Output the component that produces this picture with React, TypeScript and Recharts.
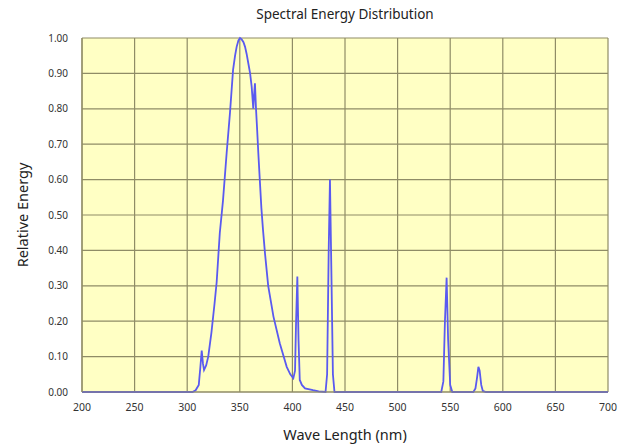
import React from 'react';
import { LineChart, Line, XAxis, YAxis, CartesianGrid } from 'recharts';

const wavelengths = [200, 305, 308, 311, 312.5, 313.8, 315, 316, 318, 320, 323, 326, 328, 331, 334, 337.5, 340.7, 343.6, 345.5, 347, 348.7, 350.2, 351.8, 353.5, 355, 356.5, 358, 359.8, 361.3, 362.8, 363.6, 364.4, 365.4, 366.5, 367.6, 369, 370.5, 372, 374, 377, 382, 388, 394.6, 398, 400.9, 402.5, 403.5, 404.7, 405.8, 407, 409, 412, 419.6, 425, 431.5, 433, 434.5, 435.7, 437, 438.5, 440, 445, 541.5, 543.5, 545, 546.6, 548, 550, 552, 572, 574, 575.5, 576.8, 578, 579.5, 581, 584, 700];
const energy = [0, 0, 0.005, 0.02, 0.07, 0.117, 0.08, 0.062, 0.075, 0.1, 0.167, 0.25, 0.31, 0.45, 0.54, 0.675, 0.79, 0.91, 0.95, 0.975, 0.993, 1.0, 0.996, 0.988, 0.975, 0.955, 0.93, 0.9, 0.862, 0.8, 0.84, 0.872, 0.8, 0.74, 0.675, 0.6, 0.52, 0.46, 0.39, 0.3, 0.213, 0.138, 0.071, 0.05, 0.039, 0.06, 0.2, 0.326, 0.15, 0.034, 0.02, 0.01, 0.005, 0.002, 0, 0.05, 0.4, 0.6, 0.35, 0.05, 0, 0, 0, 0.03, 0.2, 0.323, 0.15, 0.02, 0, 0, 0.01, 0.04, 0.071, 0.06, 0.02, 0.003, 0, 0];

const xTicks = [200, 250, 300, 350, 400, 450, 500, 550, 600, 650, 700];
const yTicks = [0, 0.1, 0.2, 0.3, 0.4, 0.5, 0.6, 0.7, 0.8, 0.9, 1.0];

const data = wavelengths.map((w, i) => ({ w, e: energy[i] }));

const FONT = '"Noto Sans", "Liberation Sans", sans-serif';
const GRID = '#8f8c66';

const YLabel = (props: any) => {
  const vb = props.viewBox || {};
  const cx = 22;
  const cy = (vb.y || 0) + (vb.height || 0) / 2;
  return (
    <text x={cx} y={cy} transform={`rotate(-90, ${cx}, ${cy})`} textAnchor="middle" dominantBaseline="central" fontSize={14.5} fill="#222" fontFamily={FONT}>
      Relative Energy
    </text>
  );
};

export default function App() {
  return (
    <div style={{ position: 'absolute', left: 0, top: 0, width: 621, height: 446, background: '#fff', fontFamily: FONT }}>
      <div style={{ position: 'absolute', left: 82, width: 526, top: 5, textAlign: 'center', fontSize: 13.5, color: '#222' }}>
        Spectral Energy Distribution
      </div>
      <LineChart width={621} height={446} data={data} margin={{ top: 38, right: 13, bottom: 0, left: 0 }}>
        <CartesianGrid stroke={GRID} strokeWidth={1.2} fill="#ffffc4" horizontalValues={yTicks} verticalValues={xTicks} />
        <XAxis
          dataKey="w"
          type="number"
          domain={[200, 700]}
          ticks={xTicks}
          height={54}
          tickLine={false}
          axisLine={{ stroke: GRID, strokeWidth: 1.2 }}
          tick={{ fontSize: 10.5, fill: '#333', fontFamily: FONT }}
          tickMargin={6}
          interval={0}
          label={{ value: 'Wave Length (nm)', position: 'insideBottom', offset: 6, fontSize: 14.5, fill: '#222', fontFamily: FONT }}
        />
        <YAxis
          type="number"
          domain={[0, 1]}
          ticks={yTicks}
          width={82}
          tickLine={false}
          axisLine={{ stroke: GRID, strokeWidth: 1.2 }}
          tick={{ fontSize: 10, fill: '#333', fontFamily: FONT }}
          tickFormatter={(v: number) => v.toFixed(2)}
          tickMargin={8}
          interval={0}
          label={<YLabel />}
        />
        <Line type="linear" dataKey="e" stroke="#5a5af0" strokeWidth={1.8} dot={false} isAnimationActive={false} />
      </LineChart>
    </div>
  );
}
